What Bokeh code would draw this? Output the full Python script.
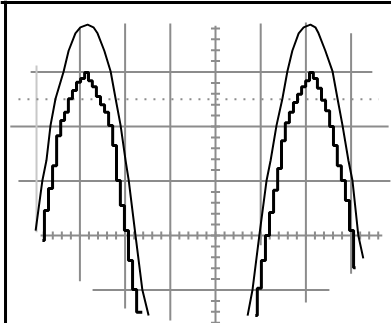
from bokeh.plotting import figure
from bokeh.models import Range1d, Span
from bokeh.embed import file_html
from bokeh.resources import INLINE

# ---- Oscilloscope screen data, in screen divisions (x: time div, y: volt div) ----
# Smooth (reference) trace, two half-waves
smooth1_x = [-3.98, -3.83, -3.74, -3.65, -3.54, -3.36, -3.25, -3.10, -2.99, -2.83,
             -2.70, -2.61, -2.46, -2.32, -2.21, -2.10, -1.99, -1.92, -1.77, -1.62, -1.48]
smooth1_y = [0.09, 1.01, 1.38, 2.02, 2.51, 3.01, 3.39, 3.71, 3.82, 3.87,
             3.82, 3.71, 3.39, 3.01, 2.51, 2.02, 1.38, 1.01, 0.00, -0.99, -1.47]
smooth2_x = [0.71, 0.82, 0.97, 1.13, 1.22, 1.35, 1.48, 1.59, 1.70, 1.84, 1.95,
             2.10, 2.21, 2.28, 2.43, 2.59, 2.70, 2.81, 2.94, 3.03, 3.16, 3.27]
smooth2_y = [-1.47, -0.99, 0.00, 1.01, 1.38, 2.02, 2.51, 3.01, 3.39, 3.71, 3.82,
             3.87, 3.82, 3.71, 3.39, 3.01, 2.51, 2.02, 1.38, 1.01, 0.00, -0.42]

# Sampled (stepped) trace, two half-waves
step1_x = [-3.83, -3.74, -3.65, -3.56, -3.47, -3.38, -3.30, -3.21, -3.12, -3.03,
           -2.94, -2.85, -2.77, -2.68, -2.59, -2.50, -2.41, -2.32, -2.23, -2.15,
           -2.06, -1.97, -1.88, -1.79, -1.70, -1.62]
step1_y = [-0.09, 0.46, 0.86, 1.28, 1.83, 2.11, 2.26, 2.51, 2.66, 2.81,
           2.88, 2.99, 2.84, 2.73, 2.55, 2.40, 2.26, 2.02, 1.65, 1.01,
           0.55, 0.09, -0.46, -0.99, -1.41, -1.41]
step2_x = [0.88, 0.97, 1.06, 1.15, 1.24, 1.33, 1.42, 1.50, 1.59, 1.68, 1.77, 1.86,
           1.95, 2.04, 2.12, 2.21, 2.30, 2.39, 2.48, 2.57, 2.65, 2.74, 2.83, 2.92,
           3.01, 3.10]
step2_y = [-1.47, -0.97, -0.46, 0.00, 0.42, 0.83, 1.23, 1.74, 2.07, 2.26, 2.44, 2.59,
           2.73, 2.84, 2.99, 2.88, 2.70, 2.48, 2.29, 2.00, 1.65, 1.28, 1.01, 0.64,
           0.09, -0.59]

# Graticule (partial lines of the round screen)
vgrid_x = [-3.0, -2.0, -1.0, 1.0, 2.0, 3.0]
vgrid_y0 = [-0.84, -1.34, -1.56, -0.18, -1.23, -0.70]
vgrid_y1 = [3.80, 3.89, 3.89, 3.89, 3.91, 3.71]
hgrid_y = [3.0, 2.0, 1.0, -1.0]
hgrid_x0 = [-4.09, -4.54, -4.36, -2.72]
hgrid_x1 = [3.47, 3.83, 3.87, 2.52]
edge_x = [-3.96]
edge_y0 = [0.06]
edge_y1 = [3.12]
level_y = [2.5]
level_x0 = [-4.36]
level_x1 = [3.61]
# centre axes (bounds) and their fine ticks every 0.2 div
haxis_x0, haxis_x1 = [-3.87], [3.69]
vaxis_y0, vaxis_y1 = [-1.62], [3.85]
htick_x = [round(-3.8 + 0.2 * i, 2) for i in range(38)]
vtick_y = [round(-1.6 + 0.2 * i, 2) for i in range(28)]

GRID = "#8c8c8c"
HT = 0.075   # half tick length (y units) on horizontal axis
VT = 0.10    # half tick length (x units) on vertical axis

p = figure(width=391, height=323, output_backend="svg", toolbar_location=None,
           x_axis_type=None, y_axis_type=None,
           x_range=Range1d(-4.757, 3.894), y_range=Range1d(-1.615, 4.312),
           min_border=0)
p.outline_line_color = None
p.background_fill_color = "white"
p.border_fill_color = "white"

# screen frame
p.add_layout(Span(location=4.275, dimension="width", line_color="black", line_width=3))
p.add_layout(Span(location=-4.646, dimension="height", line_color="black", line_width=3))

# graticule
p.segment(x0=vgrid_x, y0=vgrid_y0, x1=vgrid_x, y1=vgrid_y1, line_color=GRID, line_width=2)
p.segment(x0=hgrid_x0, y0=hgrid_y, x1=hgrid_x1, y1=hgrid_y, line_color=GRID, line_width=2)
p.segment(x0=edge_x, y0=edge_y0, x1=edge_x, y1=edge_y1, line_color="#c8c8c8", line_width=2)
p.segment(x0=level_x0, y0=level_y, x1=level_x1, y1=level_y, line_color=GRID,
          line_width=2, line_dash="2 7")

# centre axes with fine ticks
p.segment(x0=haxis_x0, y0=[0], x1=haxis_x1, y1=[0], line_color=GRID, line_width=2)
p.segment(x0=[0], y0=vaxis_y0, x1=[0], y1=vaxis_y1, line_color=GRID, line_width=2)
p.segment(x0=htick_x, y0=[-HT] * len(htick_x), x1=htick_x, y1=[HT] * len(htick_x),
          line_color=GRID, line_width=2)
p.segment(x0=[-VT] * len(vtick_y), y0=vtick_y, x1=[VT] * len(vtick_y), y1=vtick_y,
          line_color=GRID, line_width=2)

# traces
p.line(smooth1_x, smooth1_y, line_color="black", line_width=2)
p.line(smooth2_x, smooth2_y, line_color="black", line_width=2)
p.step(step1_x, step1_y, mode="center", line_color="black", line_width=3)
p.step(step2_x, step2_y, mode="center", line_color="black", line_width=3)

open("out.html", "w").write(file_html(p, INLINE))
